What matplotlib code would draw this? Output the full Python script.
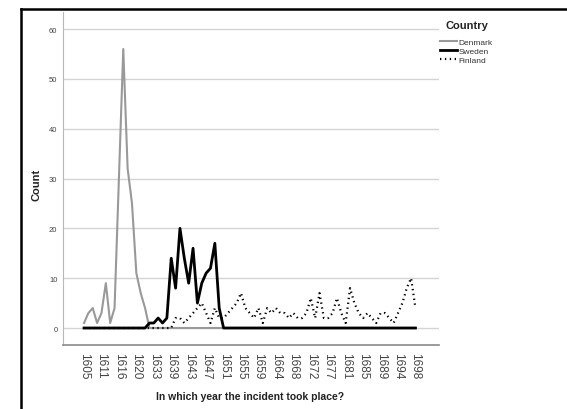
import matplotlib
matplotlib.use('Agg')
import matplotlib.pyplot as plt
from matplotlib.lines import Line2D

plt.rcParams['font.family'] = ['Liberation Sans', 'DejaVu Sans']

# years that appear as categories on the x axis
years = [1605, 1606, 1608, 1610, 1611, 1612, 1613, 1615, 1616, 1617,
         1618, 1619, 1620, 1621, 1622, 1630, 1633, 1635, 1636, 1637,
         1639, 1640, 1641, 1642, 1643, 1644, 1645, 1646, 1647, 1648,
         1649, 1650, 1651, 1652, 1653, 1654, 1655, 1656, 1657, 1658,
         1659, 1660, 1661, 1662, 1664, 1665, 1666, 1667, 1668, 1669,
         1670, 1671, 1672, 1673, 1674, 1675, 1677, 1678, 1679, 1680,
         1681, 1682, 1683, 1684, 1685, 1686, 1687, 1688, 1689, 1690,
         1691, 1692, 1694, 1695, 1696, 1697, 1698]

denmark = [1, 3, 4, 1, 3, 9, 1, 4, 30, 56,
           32, 25, 11, 7, 4, 0, 0, 0, 0, 0,
           0, 0, 0, 0, 0, 0, 0, 0, 0, 0,
           0, 0, 0, 0, 0, 0, 0, 0, 0, 0,
           0, 0, 0, 0, 0, 0, 0, 0, 0, 0,
           0, 0, 0, 0, 0, 0, 0, 0, 0, 0,
           0, 0, 0, 0, 0, 0, 0, 0, 0, 0,
           0, 0, 0, 0, 0, 0, 0]

sweden = [0, 0, 0, 0, 0, 0, 0, 0, 0, 0,
          0, 0, 0, 0, 0, 1, 1, 2, 1, 2,
          14, 8, 20, 14, 9, 16, 5, 9, 11, 12,
          17, 4, 0, 0, 0, 0, 0, 0, 0, 0,
          0, 0, 0, 0, 0, 0, 0, 0, 0, 0,
          0, 0, 0, 0, 0, 0, 0, 0, 0, 0,
          0, 0, 0, 0, 0, 0, 0, 0, 0, 0,
          0, 0, 0, 0, 0, 0, 0]

finland = [0, 0, 0, 0, 0, 0, 0, 0, 0, 0,
           0, 0, 0, 0, 0, 0, 0, 0, 0, 0,
           0, 2, 2, 1, 2, 3, 4, 5, 3, 1,
           4, 2, 2, 3, 4, 5, 7, 4, 3, 2,
           4, 1, 4, 3, 4, 3, 3, 2, 3, 2,
           2, 3, 6, 2, 7, 2, 2, 3, 6, 3,
           1, 8, 5, 3, 2, 3, 2, 1, 3, 3,
           2, 1, 3, 5, 8, 10, 4]

x = list(range(len(years)))

fig = plt.figure(figsize=(5.67, 4.10), dpi=100)
ax = fig.add_axes([63/567, 1-346/410, (439-63)/567, (346-13)/410])

ax.plot(x, denmark, color='#999999', lw=1.5, label='Denmark')
ax.plot(x, sweden, color='black', lw=2.0, label='Sweden')
ax.plot(x, finland, color='black', lw=1.6, linestyle=(0, (0.6, 1.6)), label='Finland')

ax.set_ylim(-3.41, 63.42)
ax.set_xlim(-4.82, 81.4)
ax.set_yticks([0, 10, 20, 30, 40, 50, 60])
ax.yaxis.grid(True, color='#d4d4d4', lw=1.0)
ax.set_axisbelow(True)
for s in ['top', 'right']:
    ax.spines[s].set_visible(False)
ax.spines['left'].set_color('#b8b8b8')
ax.spines['bottom'].set_color('#8a8a8a')
ax.spines['bottom'].set_linewidth(1.2)

ax.set_xticks(x[::4])
ax.set_xticklabels([str(years[i]) for i in x[::4]], rotation=270)
ax.tick_params(axis='x', length=0, pad=5, labelsize=8.5, labelcolor='#444444')
ax.tick_params(axis='y', length=0, pad=4, labelsize=5.5, labelcolor='#444444')

fig.text(37/567, 1-185/410, 'Count', rotation=90, ha='center', va='center',
         fontsize=8, fontweight='bold', color='#222222')
fig.text(250/567, 1-397/410, 'In which year the incident took place?',
         ha='center', va='center', fontsize=7.5, fontweight='bold', color='#222222')

# legend title drawn on its own, entries below it
fig.text(467/567, 1-26/410, 'Country', ha='center', va='center',
         fontsize=8, fontweight='bold', color='#222222')
handles = [Line2D([], [], color='#999999', lw=1.5),
           Line2D([], [], color='black', lw=2.0),
           Line2D([], [], color='black', lw=1.6, linestyle=(0, (0.6, 1.6)))]
leg = fig.legend(handles, ['Denmark', 'Sweden', 'Finland'],
                 loc='upper left', bbox_to_anchor=(440/567, 1-39/410),
                 frameon=False, fontsize=6,
                 handlelength=2.0, handletextpad=0.2, labelspacing=0.15,
                 borderpad=0, borderaxespad=0)
for t in leg.get_texts():
    t.set_color('#333333')

# border of the output window
fig.add_artist(Line2D([21/567, 1], [1-10/410, 1-10/410], transform=fig.transFigure,
                      color='black', lw=1.8))
fig.add_artist(Line2D([21/567, 21/567], [0, 1-10/410], transform=fig.transFigure,
                      color='black', lw=1.8))

fig.savefig('out.png', dpi=100)
